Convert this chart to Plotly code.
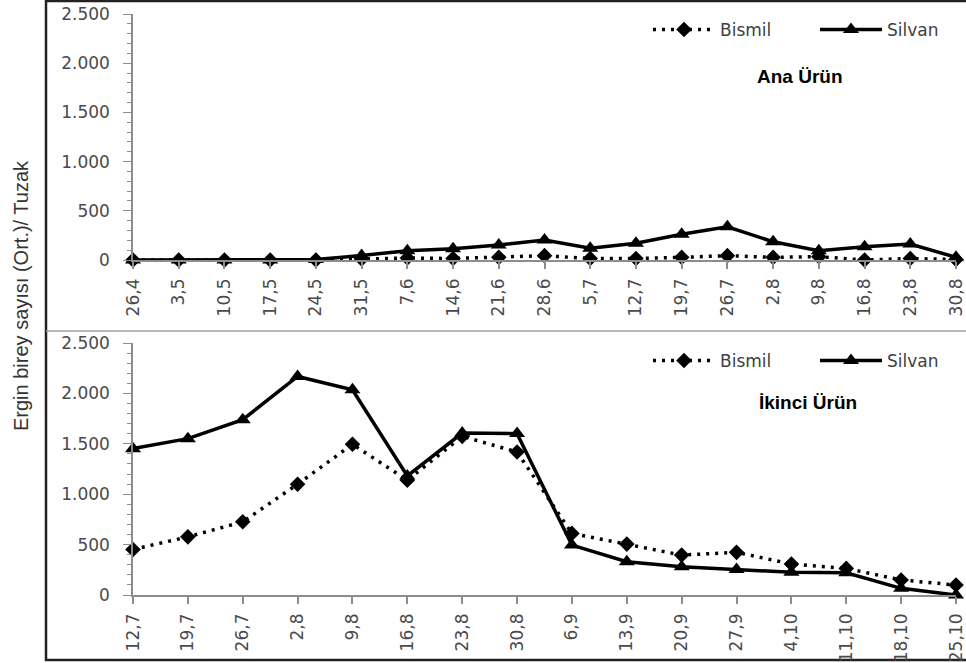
import plotly.graph_objects as go

# ---------------- data ----------------
top_categories = ["26,4", "3,5", "10,5", "17,5", "24,5", "31,5", "7,6", "14,6", "21,6", "28,6",
                  "5,7", "12,7", "19,7", "26,7", "2,8", "9,8", "16,8", "23,8", "30,8"]
top_bismil = [0, 0, 0, 0, 0, 10, 20, 15, 27, 44, 15, 15, 27, 44, 27, 34, 0, 15, 5]
top_silvan = [0, 0, 0, 0, 5, 45, 95, 115, 152, 203, 119, 170, 261, 338, 186, 95, 135, 163, 27]

bottom_categories = ["12,7", "19,7", "26,7", "2,8", "9,8", "16,8", "23,8", "30,8", "6,9", "13,9",
                     "20,9", "27,9", "4,10", "11,10", "18,10", "25,10"]
bottom_bismil = [452, 577, 726, 1099, 1495, 1139, 1574, 1419, 611, 505, 396, 423, 307, 264, 149, 99]
bottom_silvan = [1452, 1551, 1739, 2168, 2036, 1181, 1607, 1601, 495, 330, 280, 254, 225, 221, 66, 0]

series_names = ["Bismil", "Silvan"]
panel_titles = ["Ana Ürün", "İkinci Ürün"]
y_title = "Ergin birey sayısı (Ort.)/ Tuzak"

# ---------------- geometry ----------------
W, H = 966, 663
ML, MR, MT, MB = 133, 10, 14, 68
PH = H - MT - MB          # plotting height in px
PW = W - ML - MR


def py(p):                 # pixel y (from top) -> paper y
    return (H - MB - p) / PH


def px(p):                 # pixel x -> paper x
    return (p - ML) / PW


TICK_FONT = dict(family="DejaVu Sans", size=17, color="#4a4a4a")
AXIS_COLOR = "#8c8c8c"

fig = go.Figure()

panels = [
    (top_categories, top_bismil, top_silvan, "x", "y", "legend"),
    (bottom_categories, bottom_bismil, bottom_silvan, "x2", "y2", "legend2"),
]

for cats, bis, sil, xa, ya, lg in panels:
    fig.add_trace(go.Scatter(
        x=cats, y=bis, name=series_names[0], xaxis=xa, yaxis=ya, legend=lg,
        mode="lines+markers", cliponaxis=False,
        line=dict(color="black", width=3.5, dash="3px,6px"),
        marker=dict(symbol="diamond", size=12, color="black"),
    ))
    fig.add_trace(go.Scatter(
        x=cats, y=sil, name=series_names[1], xaxis=xa, yaxis=ya, legend=lg,
        mode="lines+markers", cliponaxis=False,
        line=dict(color="black", width=3.5),
        marker=dict(symbol="triangle-up", size=14, color="black"),
    ))

top_dom = [py(260), py(14)]
bot_dom = [py(595), py(343)]


def xaxis_cfg(n, anchor):
    return dict(
        type="category", range=[0, n - 1], anchor=anchor, automargin=False,
        showgrid=False, zeroline=False,
        showline=True, linecolor=AXIS_COLOR, linewidth=1.5,
        ticks="outside", ticklen=7, tickcolor=AXIS_COLOR, tickwidth=1.5,
        tickangle=-90, tickfont=TICK_FONT, ticklabelstandoff=3,
    )


def yaxis_cfg(dom, anchor):
    return dict(
        domain=dom, range=[0, 2500], anchor=anchor, automargin=False,
        showgrid=False, zeroline=False,
        showline=True, linecolor=AXIS_COLOR, linewidth=1.5,
        ticks="outside", ticklen=8, tickcolor=AXIS_COLOR, tickwidth=1.2,
        dtick=500, tickformat=",d", tickfont=TICK_FONT, ticklabelstandoff=10,
        minor=dict(ticks="outside", ticklen=4, tickcolor=AXIS_COLOR, dtick=100, tickwidth=1),
    )


def yaxis_inside(over, dom):
    return dict(
        domain=dom, range=[0, 2500], overlaying=over, anchor="x" if over == "y" else "x2",
        automargin=False,
        showgrid=False, zeroline=False, showline=False, showticklabels=False,
        ticks="inside", ticklen=7, tickcolor=AXIS_COLOR, tickwidth=1.2, dtick=500,
        minor=dict(ticks="inside", ticklen=4, tickcolor=AXIS_COLOR, dtick=100, tickwidth=1),
    )


legend_common = dict(
    orientation="h", xanchor="right", yanchor="middle",
    font=dict(family="DejaVu Sans", size=17, color="#404040"),
    bgcolor="rgba(0,0,0,0)", itemwidth=62, tracegroupgap=0,
    entrywidth=90, entrywidthmode="pixels",
)

fig.update_layout(
    width=W, height=H,
    margin=dict(l=ML, r=MR, t=MT, b=MB, autoexpand=False),
    paper_bgcolor="white", plot_bgcolor="white",
    separators=",.",
    xaxis=xaxis_cfg(len(top_categories), "y"),
    yaxis=yaxis_cfg(top_dom, "x"),
    xaxis2=xaxis_cfg(len(bottom_categories), "y2"),
    yaxis2=yaxis_cfg(bot_dom, "x2"),
    yaxis3=yaxis_inside("y", top_dom),
    yaxis4=yaxis_inside("y2", bot_dom),
    legend=dict(x=px(982), y=py(30), **legend_common),
    legend2=dict(x=px(982), y=py(361), **legend_common),
    showlegend=True,
)

# panel labels
fig.add_annotation(text="<b>" + panel_titles[0] + "</b>", xref="paper", yref="paper",
                   x=px(800), y=py(76), xanchor="center", yanchor="middle", showarrow=False,
                   font=dict(family="Liberation Sans", size=19, color="black"))
fig.add_annotation(text="<b>" + panel_titles[1] + "</b>", xref="paper", yref="paper",
                   x=px(808), y=py(402), xanchor="center", yanchor="middle", showarrow=False,
                   font=dict(family="Liberation Sans", size=19, color="black"))

# y-axis title
fig.add_annotation(text=y_title, xref="paper", yref="paper", textangle=-90,
                   x=px(21), y=py(296), xanchor="center", yanchor="middle", showarrow=False,
                   font=dict(family="Liberation Sans", size=20, color="#333333"))

# outer frame and divider
fig.add_shape(type="rect", xref="paper", yref="paper",
              x0=px(46), x1=px(972), y0=py(660), y1=py(1),
              line=dict(color="#222222", width=2.5), layer="below")
fig.add_shape(type="line", xref="paper", yref="paper",
              x0=px(46), x1=px(966), y0=py(331), y1=py(331),
              line=dict(color="#a0a0a0", width=1.5), layer="below")

fig.write_html("out.html", config={"displayModeBar": False},
               post_script="document.body.style.margin='0px';document.body.style.overflow='hidden';")
